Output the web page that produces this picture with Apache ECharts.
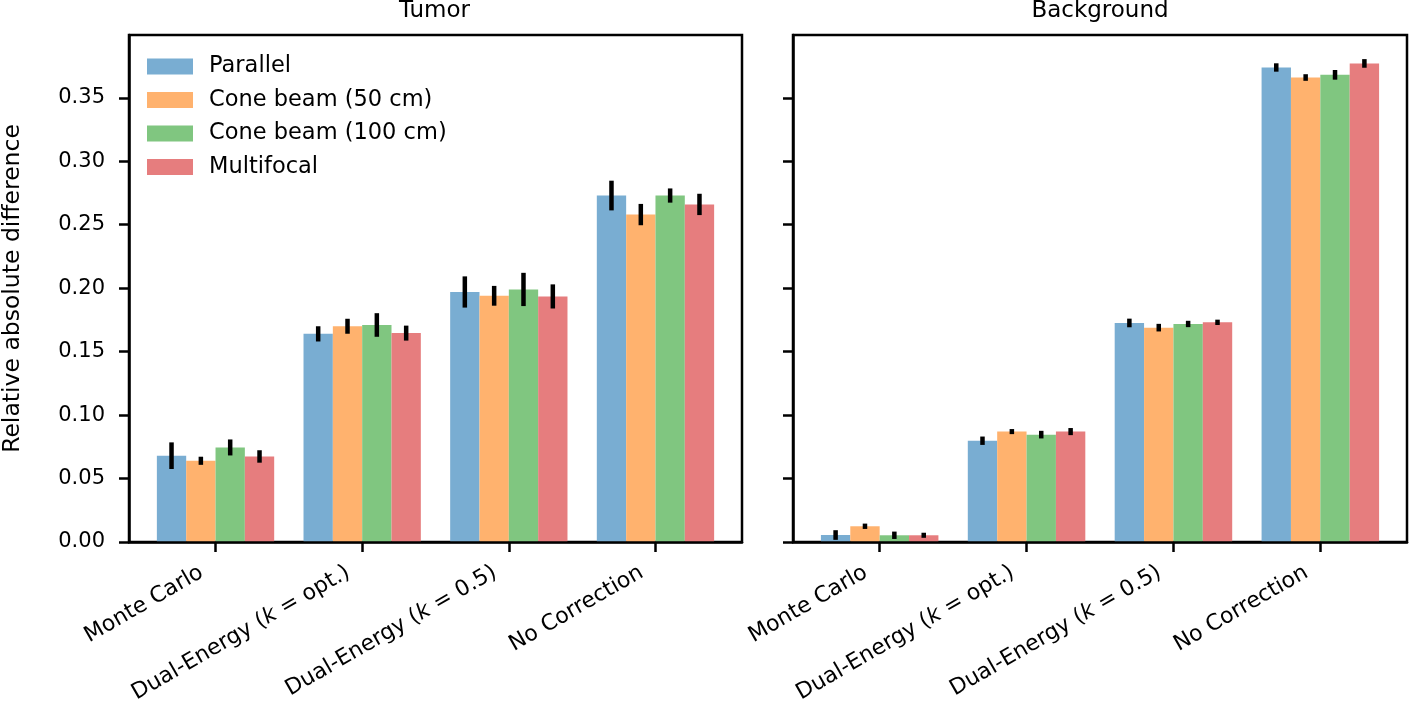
<!DOCTYPE html>
<html>
<head>
<meta charset="utf-8">
<script src="https://cdn.jsdelivr.net/npm/echarts@6/dist/echarts.min.js"></script>
<style>
  html, body { margin: 0; padding: 0; background: #fff; }
  #chart { width: 1419px; height: 706px; }
</style>
</head>
<body>
<div id="chart"></div>
<script>
const categories = ['Monte Carlo', 'Dual-Energy (k = opt.)', 'Dual-Energy (k = 0.5)', 'No Correction'];
const seriesNames = ['Parallel', 'Cone beam (50 cm)', 'Cone beam (100 cm)', 'Multifocal'];
const yTicks = [0, 0.05, 0.10, 0.15, 0.20, 0.25, 0.30, 0.35];

// Tumor panel
const tumorParallel = [0.068, 0.164, 0.197, 0.273];
const tumorParallelErr = [0.0105, 0.006, 0.0123, 0.0117];
const tumorCone50 = [0.064, 0.170, 0.194, 0.258];
const tumorCone50Err = [0.0032, 0.0059, 0.0078, 0.0084];
const tumorCone100 = [0.0745, 0.171, 0.199, 0.273];
const tumorCone100Err = [0.0063, 0.0093, 0.0131, 0.0056];
const tumorMulti = [0.0674, 0.1646, 0.1935, 0.266];
const tumorMultiErr = [0.0049, 0.0059, 0.0095, 0.0084];

// Background panel
const bgParallel = [0.0055, 0.0798, 0.1726, 0.3739];
const bgParallelErr = [0.0038, 0.0033, 0.0034, 0.0033];
const bgCone50 = [0.0124, 0.087, 0.1689, 0.366];
const bgCone50Err = [0.0021, 0.002, 0.003, 0.0026];
const bgCone100 = [0.0053, 0.0846, 0.1718, 0.3681];
const bgCone100Err = [0.0029, 0.003, 0.0025, 0.0038];
const bgMulti = [0.0053, 0.087, 0.1731, 0.3771];
const bgMultiErr = [0.002, 0.0028, 0.0021, 0.0034];

const colors = ['#79add2', '#ffb26e', '#80c680', '#e67d7e'];
const font = 'DejaVu Sans';
const barW = 0.2;

const tumorVals = [tumorParallel, tumorCone50, tumorCone100, tumorMulti];
const tumorErrs = [tumorParallelErr, tumorCone50Err, tumorCone100Err, tumorMultiErr];
const bgVals = [bgParallel, bgCone50, bgCone100, bgMulti];
const bgErrs = [bgParallelErr, bgCone50Err, bgCone100Err, bgMultiErr];

function xLabel(v) {
  const s = categories[v];
  if (s === undefined) return '';
  const m = s.indexOf('(k');
  if (m < 0) return '{n|' + s + '}';
  return '{n|' + s.slice(0, m + 1) + '}{i|k}{n|' + s.slice(m + 2) + '}';
}

function makeSeries(idx, panel, vals, errs) {
  const offset = (idx - 1.5) * barW;
  return {
    name: seriesNames[idx],
    type: 'custom',
    xAxisIndex: panel,
    yAxisIndex: panel,
    z: 2,
    itemStyle: { color: colors[idx] },
    encode: { x: 0, y: 1 },
    data: vals.map((v, i) => [i, v, errs[i]]),
    renderItem: function (params, api) {
      const x = api.value(0) + offset;
      const v = api.value(1);
      const e = api.value(2);
      const p0 = api.coord([x - barW / 2, v]);
      const p1 = api.coord([x + barW / 2, 0]);
      const e0 = api.coord([x, v - e]);
      const e1 = api.coord([x, v + e]);
      return {
        type: 'group',
        children: [
          {
            type: 'rect',
            shape: { x: p0[0], y: p0[1], width: p1[0] - p0[0], height: p1[1] - p0[1] },
            style: { fill: colors[idx] }
          },
          {
            type: 'line',
            shape: { x1: e0[0], y1: e0[1], x2: e1[0], y2: e1[1] },
            style: { stroke: '#000', lineWidth: 4.5 },
            z2: 10
          }
        ]
      };
    }
  };
}

function xAxisFor(panel) {
  return {
    type: 'value',
    gridIndex: panel,
    min: -0.59,
    max: 3.59,
    z: 5,
    splitLine: { show: false },
    axisLine: { show: true, onZero: false, lineStyle: { color: '#000', width: 2.5 } },
    axisTick: { show: true, inside: false, customValues: [0, 1, 2, 3], length: 10, lineStyle: { color: '#000', width: 2.5 } },
    axisLabel: {
      show: true,
      customValues: [0, 1, 2, 3],
      rotate: 30,
      margin: 21,
      padding: [0, 16, 0, 0],
      formatter: xLabel,
      rich: {
        n: { fontFamily: font, fontSize: 22, color: '#000' },
        i: { fontFamily: font, fontSize: 22, color: '#000', fontStyle: 'italic' }
      }
    }
  };
}

function yAxisFor(panel) {
  return {
    type: 'value',
    gridIndex: panel,
    min: 0,
    max: 0.3995,
    z: 5,
    splitLine: { show: false },
    axisLine: { show: true, onZero: false, lineStyle: { color: '#000', width: 2.5 } },
    axisTick: { show: true, inside: false, customValues: yTicks, length: 10, lineStyle: { color: '#000', width: 2.5 } },
    axisLabel: {
      show: panel === 0,
      customValues: yTicks,
      margin: 24,
      fontFamily: font,
      fontSize: 21,
      color: '#000',
      formatter: v => v.toFixed(2)
    },
    name: panel === 0 ? 'Relative absolute difference' : '',
    nameLocation: 'middle',
    nameGap: 104,
    nameMoveOverlap: false,
    nameTextStyle: { fontFamily: font, fontSize: 23.5, color: '#000' }
  };
}

const chart = echarts.init(document.getElementById('chart'));

const series = [];
for (let i = 0; i < 4; i++) series.push(makeSeries(i, 0, tumorVals[i], tumorErrs[i]));
for (let i = 0; i < 4; i++) series.push(makeSeries(i, 1, bgVals[i], bgErrs[i]));

chart.setOption({
  animation: false,
  backgroundColor: '#fff',
  title: [
    { text: 'Tumor', left: 434.5, top: 0, textAlign: 'center', padding: 0,
      textStyle: { fontFamily: font, fontSize: 23, fontWeight: 'normal', color: '#000' } },
    { text: 'Background', left: 1100, top: 0, textAlign: 'center', padding: 0,
      textStyle: { fontFamily: font, fontSize: 23, fontWeight: 'normal', color: '#000' } }
  ],
  legend: {
    data: seriesNames,
    orient: 'vertical',
    left: 147,
    top: 55,
    padding: 0,
    icon: 'rect',
    itemWidth: 46,
    itemHeight: 16,
    itemGap: 10.5,
    textStyle: { fontFamily: font, fontSize: 22.5, color: '#000', padding: [0, 0, 0, 11] }
  },
  grid: [
    { left: 127, top: 35, width: 615, height: 507, show: true, borderColor: '#000', borderWidth: 2.5, backgroundColor: 'transparent' },
    { left: 793, top: 35, width: 614, height: 507, show: true, borderColor: '#000', borderWidth: 2.5, backgroundColor: 'transparent' }
  ],
  xAxis: [xAxisFor(0), xAxisFor(1)],
  yAxis: [yAxisFor(0), yAxisFor(1)],
  series: series
});
</script>
</body>
</html>
